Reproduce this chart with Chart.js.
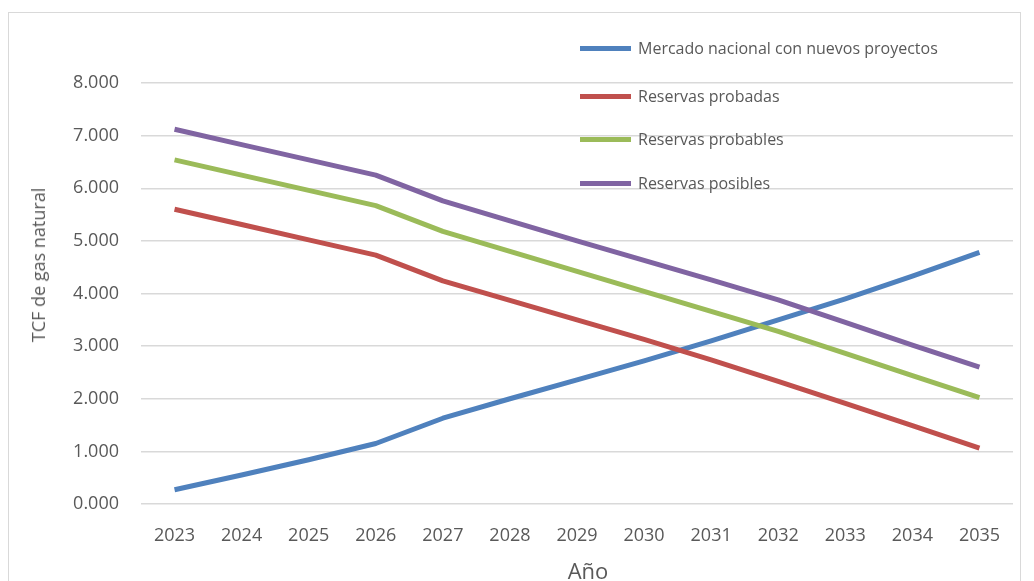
<!DOCTYPE html>
<html lang="es">
<head>
<meta charset="utf-8">
<title>TCF de gas natural</title>
<script src="https://cdn.jsdelivr.net/npm/chart.js@4.4.1/dist/chart.umd.min.js"></script>
<style>
  html,body{margin:0;padding:0;background:#fff;overflow:hidden;}
  #wrap{position:relative;width:1034px;height:581px;}
  #frame{position:absolute;left:8px;top:12px;width:1013px;height:600px;border:1px solid #d9d9d9;box-sizing:border-box;}
  canvas{position:absolute;left:0;top:0;}
  #legend{position:absolute;left:580px;top:0;font-family:"Open Sans",sans-serif;font-size:16px;color:#595959;}
  .item{position:absolute;left:0;white-space:nowrap;display:flex;align-items:center;}
  .item i{display:inline-block;width:51px;height:5px;margin-right:7px;}
  .axt{position:absolute;font-family:"Open Sans",sans-serif;color:#595959;white-space:nowrap;line-height:1;}
  #ytitle{font-size:18px;left:38px;top:265px;transform:translate(-50%,-50%) rotate(-90deg);}
  #xtitle{font-size:22px;left:588px;top:570px;transform:translate(-50%,-50%);}
</style>
</head>
<body>
<div id="wrap">
  <div id="frame"></div>
  <canvas id="chart" width="1034" height="581"></canvas>
  <div id="legend"></div>
  <div id="ytitle" class="axt">TCF de gas natural</div>
  <div id="xtitle" class="axt">Año</div>
</div>
<script>
// años del eje X
const years = ['2023','2024','2025','2026','2027','2028','2029','2030','2031','2032','2033','2034','2035'];

// series (TCF)
const mercadoNacional = [0.27, 0.55, 0.84, 1.15, 1.63, 2.00, 2.36, 2.72, 3.10, 3.50, 3.90, 4.33, 4.78];
const reservasProbadas = [5.60, 5.31, 5.02, 4.73, 4.24, 3.87, 3.50, 3.13, 2.74, 2.33, 1.91, 1.49, 1.06];
const reservasProbables = [6.54, 6.25, 5.96, 5.67, 5.18, 4.80, 4.42, 4.04, 3.66, 3.28, 2.86, 2.44, 2.02];
const reservasPosibles = [7.12, 6.83, 6.54, 6.25, 5.76, 5.38, 5.00, 4.63, 4.26, 3.88, 3.45, 3.02, 2.60];

const seriesNames = ['Mercado nacional con nuevos proyectos','Reservas probadas','Reservas probables','Reservas posibles'];
const seriesColors = ['#4f81bd','#c0504d','#9bbb59','#8064a2'];
const seriesData = [mercadoNacional, reservasProbadas, reservasProbables, reservasPosibles];
const legendTops = [49, 97, 140, 184];

const yTicks = [0,1,2,3,4,5,6,7,8];

const datasets = seriesNames.map((name,i)=>({
  label:name,
  data:seriesData[i],
  borderColor:seriesColors[i],
  backgroundColor:seriesColors[i],
  borderWidth:5,
  pointRadius:0,
  tension:0,
  borderJoinStyle:'round',
  order:seriesNames.length - i   // la última serie queda encima, como en Excel
}));

new Chart(document.getElementById('chart'), {
  type:'line',
  data:{labels:years, datasets},
  options:{
    responsive:false,
    devicePixelRatio:1,
    animation:false,
    layout:{padding:{top:83, right:21, left:0, bottom:0}},
    plugins:{legend:{display:false}, tooltip:{enabled:false}},
    scales:{
      x:{
        offset:true,
        grid:{display:false, drawTicks:false, offset:true},
        border:{display:false},
        ticks:{color:'#595959', font:{family:'Open Sans', size:18}, padding:21, maxRotation:0, autoSkip:false},
        afterFit:(s)=>{ s.height = 581 - 504; }
      },
      y:{
        min:0, max:8,
        afterBuildTicks:(s)=>{ s.ticks = yTicks.map(v=>({value:v})); },
        grid:{color:'#d9d9d9', lineWidth:1.5, drawTicks:false},
        border:{display:false},
        ticks:{color:'#595959', font:{family:'Open Sans', size:18}, padding:22, callback:v=>v.toFixed(3)},
        afterFit:(s)=>{ s.width = 141; }
      }
    }
  }
});

document.getElementById('legend').innerHTML = seriesNames.map((n,i)=>
  `<div class="item" style="top:${legendTops[i]-12}px"><i style="background:${seriesColors[i]}"></i>${n}</div>`
).join('');
</script>
</body>
</html>
